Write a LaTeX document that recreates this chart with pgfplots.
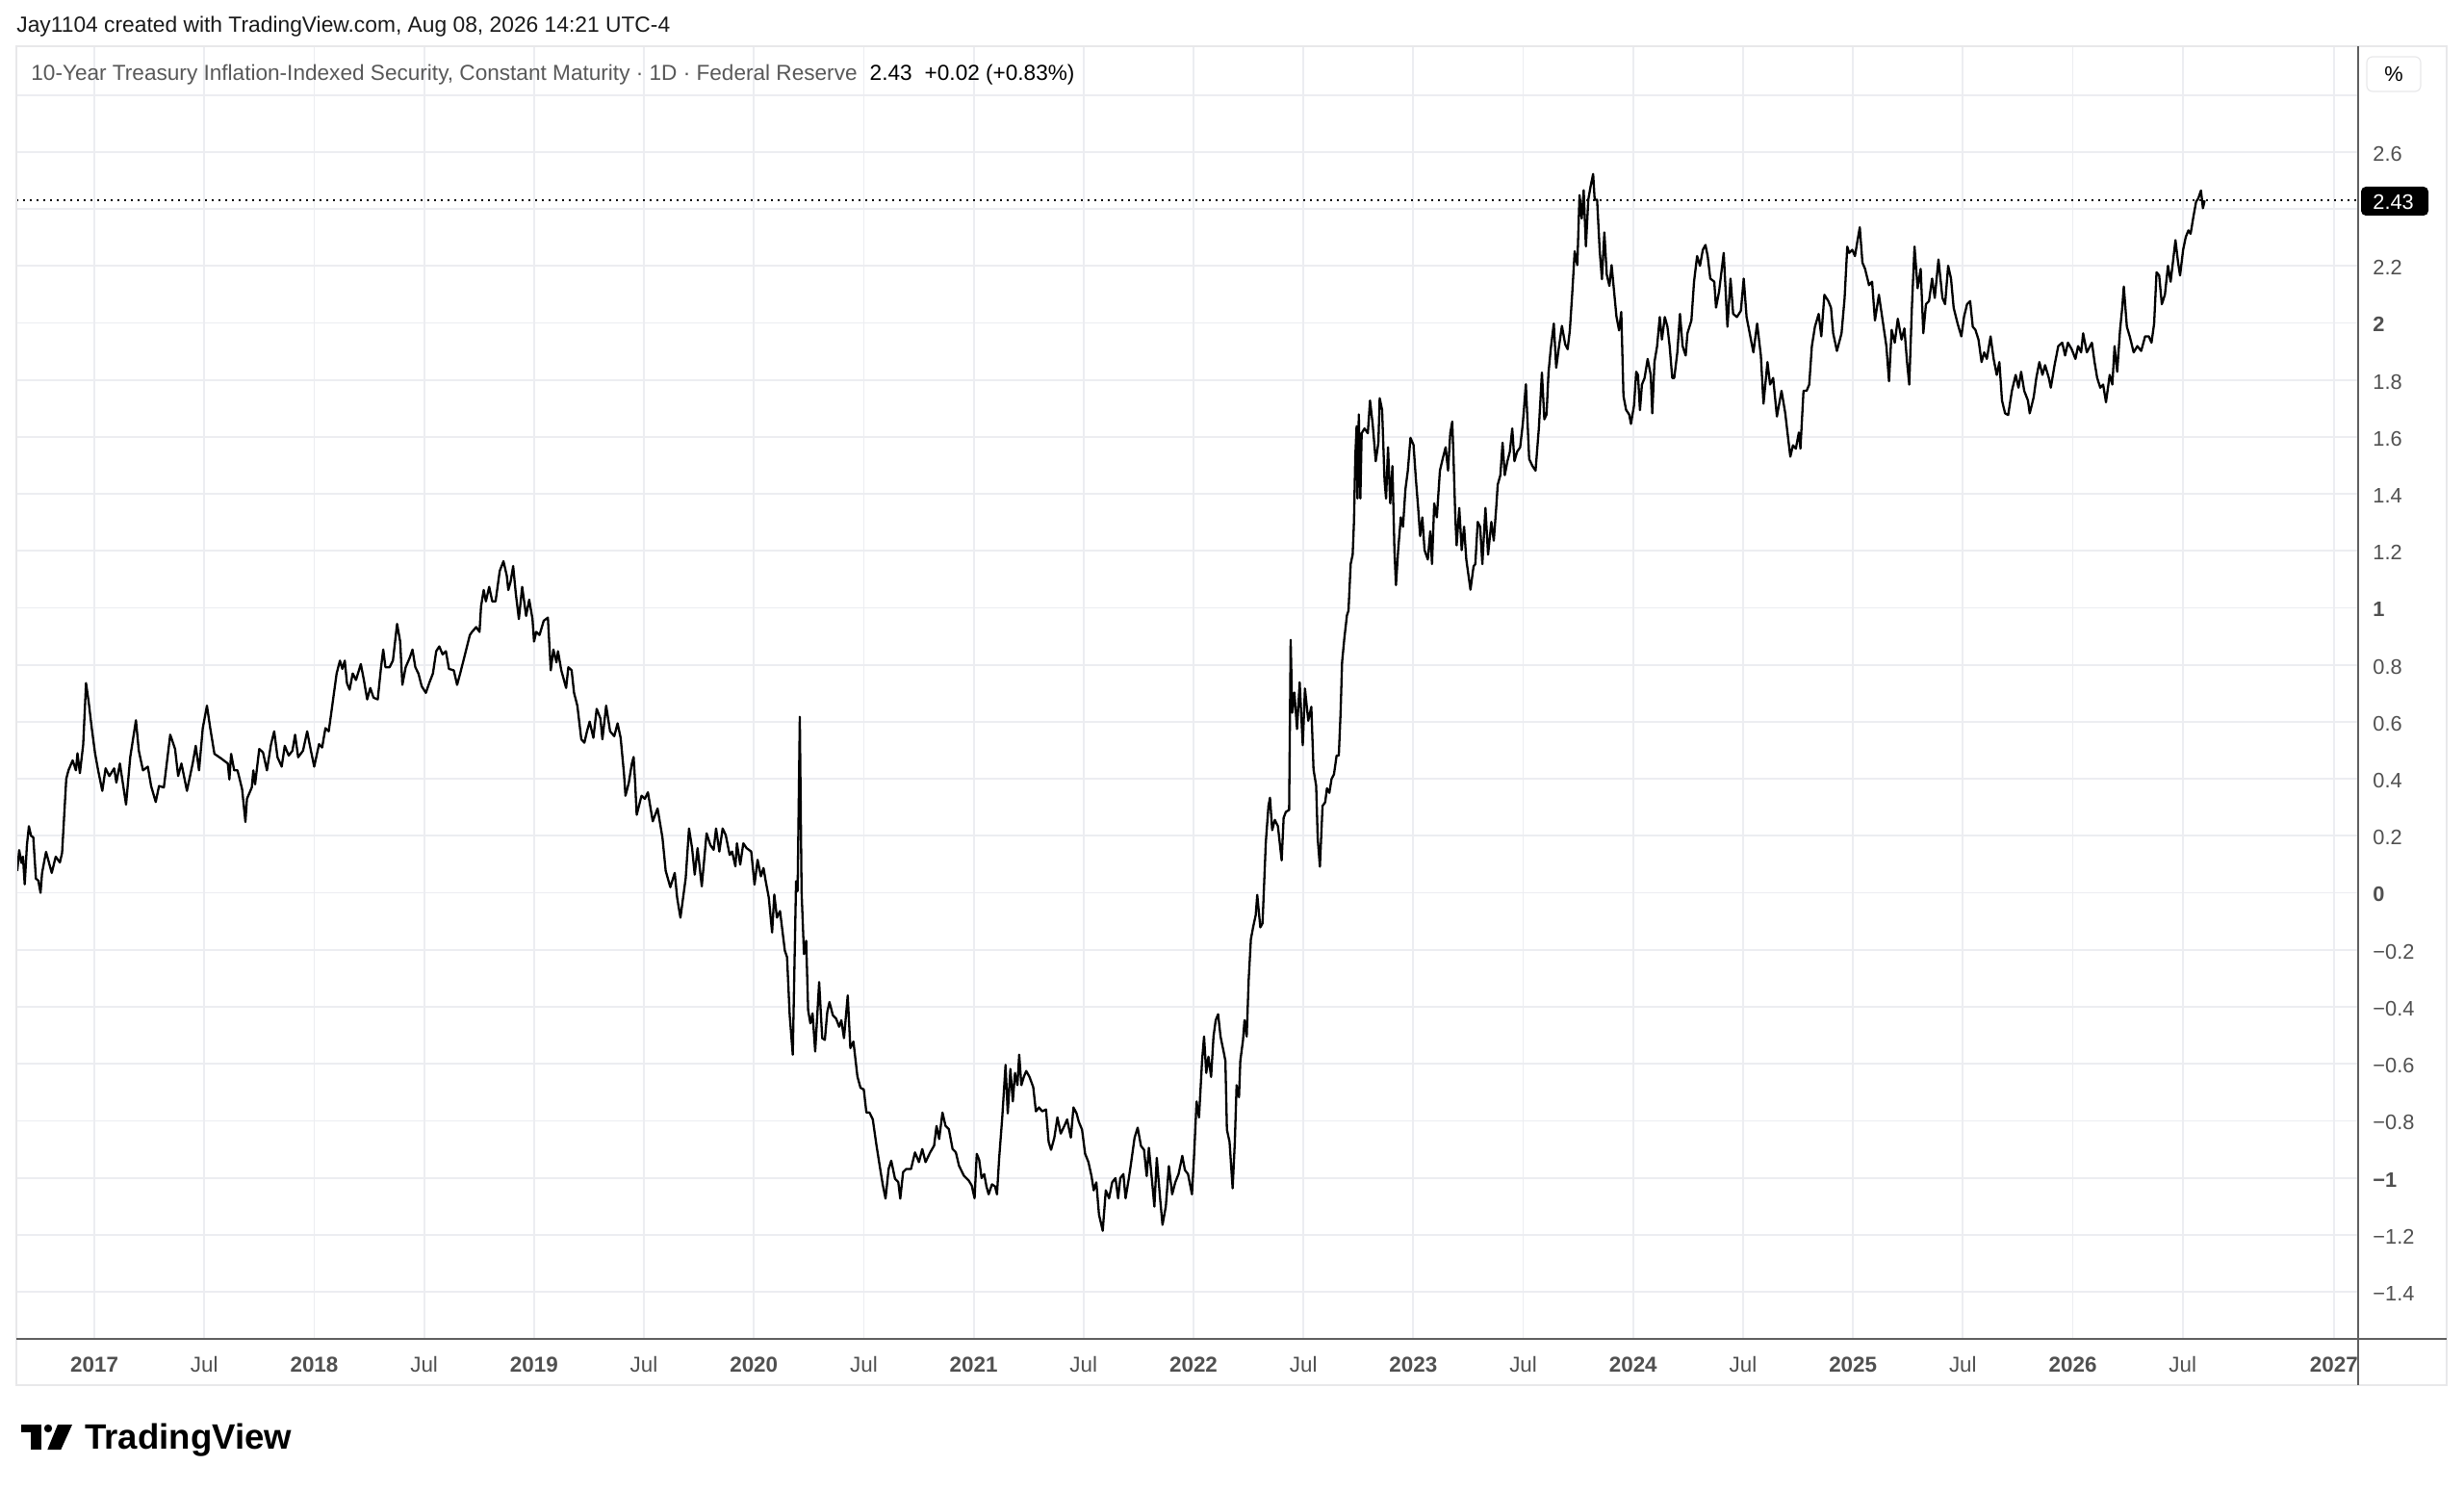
\documentclass[border=0pt]{standalone}
\usepackage{fontspec}
\setmainfont{Liberation Sans}
\usepackage{pgfplots}
\pgfplotsset{compat=1.18}
\definecolor{gridc}{RGB}{236,237,241}
\definecolor{axisc}{RGB}{95,95,95}
\definecolor{labc}{RGB}{80,80,80}
\definecolor{legc}{RGB}{88,88,88}
\definecolor{framec}{RGB}{232,232,234}
\begin{document}
\begin{tikzpicture}[x=1pt,y=1pt]
\path[use as bounding box] (0,0) rectangle (1280,774);
\begin{axis}[
  at={(8.5pt,78.5pt)}, anchor=south west,
  width=1216.5pt, height=671.5pt, scale only axis,
  xmin=2016.645, xmax=2027.298, ymin=-1.5655, ymax=2.9716,
  axis line style={draw=none},
  major tick length=0pt, tick style={draw=none},
  grid=major, major grid style={gridc, line width=0.9pt},
  xtick={2017,2017.5,2018,2018.5,2019,2019.5,2020,2020.5,2021,2021.5,2022,2022.5,2023,2023.5,2024,2024.5,2025,2025.5,2026,2026.5,2027.188},
  xticklabels={\textbf{2017},Jul,\textbf{2018},Jul,\textbf{2019},Jul,\textbf{2020},Jul,\textbf{2021},Jul,\textbf{2022},Jul,\textbf{2023},Jul,\textbf{2024},Jul,\textbf{2025},Jul,\textbf{2026},Jul,\textbf{2027}},
  ytick={-1.4,-1.2,-1,-0.8,-0.6,-0.4,-0.2,0,0.2,0.4,0.6,0.8,1,1.2,1.4,1.6,1.8,2,2.2,2.4,2.6,2.8},
  yticklabels={−1.4,−1.2,\textbf{−1},−0.8,−0.6,−0.4,−0.2,\textbf{0},0.2,0.4,0.6,0.8,\textbf{1},1.2,1.4,1.6,1.8,\textbf{2},2.2,{},2.6,{}},
  yticklabel pos=right,
  xticklabel style={anchor=base, yshift=-17pt, inner sep=0pt, font=\fontsize{11.2}{13}\selectfont, text=labc},
  yticklabel style={anchor=base west, xshift=7.5pt, yshift=-4.7pt, inner sep=0pt, font=\fontsize{10.9}{12}\selectfont, text=labc},
]
\addplot[black, line width=0.8pt, dash pattern=on 0.9pt off 2.6pt] coordinates {(2016.645,2.43) (2027.298,2.43)};
\addplot[black, line width=1.15pt, line join=round, mark=none] coordinates {
(2016.649,0.077)(2016.658,0.15)(2016.668,0.105)(2016.675,0.127)(2016.683,0.03)(2016.693,0.167)(2016.702,0.234)(2016.712,0.2)(2016.722,0.195)(2016.734,0.05)(2016.745,0.043)(2016.755,0.0)(2016.762,0.07)(2016.780,0.144)(2016.792,0.11)(2016.806,0.07)(2016.824,0.127)(2016.843,0.107)(2016.853,0.14)(2016.872,0.40)(2016.882,0.43)(2016.901,0.465)(2016.916,0.43)(2016.923,0.49)(2016.934,0.42)(2016.949,0.52)(2016.962,0.736)(2016.974,0.67)(2016.988,0.578)(2017.003,0.49)(2017.017,0.43)(2017.036,0.358)(2017.051,0.437)(2017.068,0.41)(2017.090,0.437)(2017.100,0.387)(2017.116,0.454)(2017.144,0.31)(2017.163,0.476)(2017.189,0.606)(2017.202,0.499)(2017.221,0.43)(2017.243,0.443)(2017.258,0.375)(2017.279,0.319)(2017.294,0.375)(2017.316,0.37)(2017.345,0.555)(2017.367,0.505)(2017.381,0.41)(2017.396,0.454)(2017.421,0.358)(2017.447,0.454)(2017.461,0.516)(2017.476,0.43)(2017.493,0.578)(2017.512,0.657)(2017.527,0.578)(2017.546,0.488)(2017.578,0.471)(2017.607,0.454)(2017.614,0.398)(2017.622,0.488)(2017.636,0.43)(2017.651,0.43)(2017.672,0.364)(2017.687,0.249)(2017.694,0.33)(2017.716,0.37)(2017.723,0.43)(2017.731,0.381)(2017.750,0.505)(2017.767,0.493)(2017.785,0.43)(2017.803,0.52)(2017.818,0.567)(2017.833,0.476)(2017.852,0.443)(2017.866,0.516)(2017.884,0.482)(2017.901,0.499)(2017.913,0.555)(2017.927,0.476)(2017.949,0.499)(2017.968,0.567)(2017.985,0.499)(2018.000,0.443)
(2018.022,0.522)(2018.036,0.51)(2018.051,0.578)(2018.066,0.567)(2018.076,0.623)(2018.088,0.691)(2018.102,0.77)(2018.117,0.815)(2018.128,0.786)(2018.139,0.815)(2018.149,0.736)(2018.161,0.713)(2018.175,0.77)(2018.190,0.747)(2018.212,0.803)(2018.226,0.747)(2018.241,0.679)(2018.255,0.719)(2018.270,0.685)(2018.289,0.679)(2018.304,0.792)(2018.314,0.854)(2018.324,0.792)(2018.343,0.792)(2018.358,0.815)(2018.377,0.944)(2018.391,0.882)(2018.401,0.730)(2018.416,0.792)(2018.435,0.826)(2018.447,0.854)(2018.460,0.792)(2018.474,0.77)(2018.489,0.725)(2018.508,0.702)(2018.523,0.736)(2018.540,0.77)(2018.555,0.848)(2018.569,0.865)(2018.584,0.837)(2018.599,0.848)(2018.613,0.786)(2018.635,0.781)(2018.650,0.730)(2018.664,0.77)(2018.686,0.837)(2018.708,0.905)(2018.718,0.916)(2018.737,0.933)(2018.752,0.916)(2018.759,1.006)(2018.771,1.063)(2018.781,1.023)(2018.796,1.074)(2018.810,1.023)(2018.825,1.023)(2018.844,1.130)(2018.861,1.164)(2018.876,1.113)(2018.883,1.063)(2018.893,1.091)(2018.905,1.147)(2018.917,1.051)(2018.931,0.961)(2018.946,1.074)(2018.964,0.972)(2018.978,1.029)(2018.993,0.961)(2019.000,0.882)(2019.010,0.916)(2019.025,0.905)(2019.044,0.955)(2019.063,0.966)(2019.076,0.781)(2019.088,0.854)(2019.102,0.809)(2019.109,0.848)(2019.124,0.781)(2019.146,0.719)(2019.156,0.792)(2019.171,0.781)(2019.182,0.702)(2019.197,0.657)(2019.215,0.539)(2019.229,0.527)(2019.241,0.567)(2019.253,0.601)(2019.270,0.544)(2019.285,0.646)(2019.302,0.612)(2019.311,0.539)(2019.328,0.657)(2019.346,0.567)(2019.365,0.550)(2019.380,0.595)(2019.394,0.544)(2019.409,0.420)(2019.416,0.341)(2019.431,0.386)(2019.445,0.454)(2019.453,0.477)(2019.460,0.386)(2019.467,0.274)(2019.489,0.341)(2019.504,0.330)(2019.518,0.353)(2019.540,0.251)(2019.562,0.296)(2019.584,0.195)(2019.599,0.077)(2019.620,0.020)
(2019.640,0.07)(2019.651,-0.017)(2019.666,-0.087)(2019.676,-0.029)(2019.690,0.052)(2019.705,0.226)(2019.719,0.157)(2019.731,0.064)(2019.744,0.157)(2019.763,0.023)(2019.785,0.209)(2019.802,0.168)(2019.817,0.151)(2019.828,0.226)(2019.843,0.145)(2019.858,0.226)(2019.872,0.203)(2019.890,0.133)(2019.901,0.145)(2019.916,0.093)(2019.923,0.174)(2019.938,0.099)(2019.952,0.174)(2019.967,0.157)(2019.988,0.145)(2020.003,0.029)(2020.017,0.116)(2020.032,0.058)(2020.044,0.087)(2020.054,0.041)(2020.068,-0.017)(2020.083,-0.139)(2020.093,-0.006)(2020.105,-0.087)(2020.119,-0.064)(2020.141,-0.203)(2020.151,-0.226)(2020.163,-0.429)(2020.177,-0.568)(2020.192,0.041)(2020.199,0.006)(2020.209,0.618)(2020.217,0.006)(2020.228,-0.215)(2020.238,-0.168)(2020.247,-0.412)(2020.257,-0.458)(2020.267,-0.423)(2020.279,-0.557)(2020.297,-0.313)(2020.311,-0.510)(2020.323,-0.516)(2020.334,-0.418)(2020.344,-0.383)(2020.359,-0.429)(2020.374,-0.441)(2020.388,-0.470)(2020.398,-0.447)(2020.410,-0.510)(2020.427,-0.360)(2020.439,-0.545)(2020.453,-0.522)(2020.471,-0.644)(2020.485,-0.684)(2020.500,-0.690)(2020.512,-0.771)(2020.526,-0.771)(2020.541,-0.795)(2020.558,-0.887)(2020.577,-0.980)(2020.587,-1.027)(2020.599,-1.073)(2020.613,-0.969)(2020.625,-0.940)(2020.642,-1.003)(2020.657,-1.015)(2020.666,-1.073)(2020.679,-0.980)(2020.693,-0.969)(2020.715,-0.969)(2020.733,-0.911)(2020.751,-0.945)(2020.766,-0.899)(2020.781,-0.945)(2020.802,-0.911)(2020.820,-0.887)(2020.831,-0.818)(2020.843,-0.864)(2020.858,-0.771)(2020.872,-0.818)(2020.887,-0.829)(2020.904,-0.899)(2020.919,-0.911)(2020.933,-0.957)(2020.955,-0.992)(2020.977,-1.009)(2020.991,-1.027)
(2021.004,-1.072)(2021.014,-0.916)(2021.025,-0.937)(2021.036,-1.001)(2021.048,-0.987)(2021.058,-1.030)(2021.068,-1.058)(2021.083,-1.023)(2021.097,-1.030)(2021.106,-1.058)(2021.116,-0.930)(2021.130,-0.788)(2021.145,-0.604)(2021.155,-0.774)(2021.167,-0.618)(2021.178,-0.732)(2021.188,-0.632)(2021.199,-0.675)(2021.207,-0.568)(2021.217,-0.675)(2021.228,-0.646)(2021.239,-0.625)(2021.254,-0.646)(2021.271,-0.682)(2021.283,-0.767)(2021.297,-0.753)(2021.312,-0.767)(2021.329,-0.760)(2021.341,-0.874)(2021.352,-0.902)(2021.367,-0.859)(2021.381,-0.788)(2021.396,-0.845)(2021.413,-0.817)(2021.425,-0.795)(2021.442,-0.859)(2021.454,-0.753)(2021.468,-0.774)(2021.478,-0.803)(2021.493,-0.831)(2021.507,-0.916)(2021.522,-0.945)(2021.536,-0.994)(2021.546,-1.044)(2021.558,-1.016)(2021.570,-1.129)(2021.587,-1.186)(2021.601,-1.044)(2021.616,-1.072)(2021.630,-1.016)(2021.645,-1.001)(2021.657,-1.072)(2021.667,-1.001)(2021.681,-0.987)(2021.691,-1.072)(2021.706,-1.001)(2021.714,-0.959)(2021.732,-0.859)(2021.746,-0.824)(2021.761,-0.888)(2021.775,-0.902)(2021.787,-0.994)(2021.797,-0.895)(2021.812,-1.016)(2021.822,-1.101)(2021.833,-0.930)(2021.848,-1.072)(2021.859,-1.165)(2021.874,-1.101)(2021.888,-0.959)(2021.903,-1.058)(2021.917,-1.016)(2021.932,-0.987)(2021.949,-0.923)(2021.961,-0.973)(2021.975,-0.987)(2021.993,-1.058)(2022.003,-0.916)(2022.014,-0.732)(2022.025,-0.788)(2022.033,-0.675)(2022.039,-0.589)(2022.048,-0.504)(2022.058,-0.632)(2022.068,-0.575)(2022.080,-0.646)(2022.091,-0.504)(2022.101,-0.447)(2022.112,-0.426)(2022.123,-0.504)(2022.138,-0.561)(2022.145,-0.589)(2022.152,-0.831)(2022.164,-0.874)(2022.178,-1.037)(2022.188,-0.874)(2022.196,-0.675)(2022.207,-0.717)(2022.213,-0.589)(2022.225,-0.518)(2022.232,-0.447)(2022.242,-0.504)(2022.251,-0.305)(2022.261,-0.163)(2022.271,-0.121)(2022.283,-0.078)(2022.290,-0.007)(2022.304,-0.121)(2022.314,-0.107)(2022.323,0.064)(2022.329,0.178)(2022.341,0.305)(2022.348,0.334)(2022.358,0.220)(2022.370,0.256)(2022.384,0.234)(2022.401,0.114)(2022.410,0.263)(2022.420,0.284)(2022.435,0.291)(2022.442,0.888)(2022.449,0.632)(2022.459,0.703)(2022.471,0.575)(2022.483,0.739)(2022.497,0.518)(2022.507,0.717)(2022.522,0.604)(2022.536,0.653)(2022.546,0.433)(2022.558,0.376)(2022.565,0.192)(2022.575,0.092)(2022.587,0.305)
(2022.599,0.318)(2022.607,0.367)(2022.618,0.351)(2022.628,0.4)(2022.639,0.416)(2022.651,0.482)(2022.661,0.482)(2022.669,0.630)(2022.676,0.810)(2022.686,0.892)(2022.698,0.974)(2022.705,0.990)(2022.715,1.154)(2022.724,1.187)(2022.730,1.302)(2022.736,1.531)(2022.742,1.638)(2022.746,1.384)(2022.752,1.679)(2022.759,1.384)(2022.765,1.613)(2022.778,1.630)(2022.793,1.613)(2022.803,1.728)(2022.815,1.646)(2022.829,1.515)(2022.841,1.580)(2022.847,1.736)(2022.858,1.695)(2022.869,1.449)(2022.876,1.384)(2022.885,1.564)(2022.895,1.367)(2022.905,1.498)(2022.914,1.203)(2022.921,1.080)(2022.931,1.203)(2022.943,1.318)(2022.953,1.285)(2022.964,1.416)(2022.975,1.482)(2022.987,1.597)(2023.001,1.572)(2023.012,1.449)(2023.022,1.351)(2023.031,1.252)(2023.041,1.318)(2023.051,1.203)(2023.066,1.170)(2023.077,1.269)(2023.085,1.154)(2023.095,1.367)(2023.107,1.318)(2023.121,1.482)(2023.136,1.531)(2023.147,1.564)(2023.158,1.482)(2023.168,1.613)(2023.177,1.654)(2023.182,1.548)(2023.191,1.318)(2023.197,1.220)(2023.209,1.351)(2023.220,1.203)(2023.231,1.285)(2023.241,1.170)(2023.260,1.064)(2023.274,1.146)(2023.282,1.154)(2023.293,1.302)(2023.304,1.285)(2023.314,1.154)(2023.328,1.351)(2023.340,1.187)(2023.355,1.302)(2023.366,1.236)(2023.377,1.351)(2023.384,1.433)(2023.396,1.466)(2023.406,1.580)(2023.416,1.466)(2023.428,1.515)(2023.439,1.548)(2023.450,1.630)(2023.460,1.515)(2023.472,1.548)(2023.486,1.564)(2023.498,1.646)(2023.512,1.785)(2023.527,1.523)(2023.542,1.498)(2023.556,1.482)(2023.571,1.630)(2023.585,1.826)(2023.596,1.662)(2023.606,1.679)(2023.615,1.826)(2023.625,1.908)(2023.639,1.998)(2023.650,1.843)(2023.661,1.908)(2023.676,1.990)(2023.691,1.925)(2023.702,1.908)(2023.712,1.974)(2023.723,2.105)(2023.734,2.252)(2023.746,2.203)(2023.756,2.449)(2023.766,2.367)(2023.775,2.466)(2023.785,2.269)(2023.796,2.433)(2023.807,2.482)(2023.818,2.523)(2023.825,2.433)(2023.836,2.433)(2023.848,2.252)(2023.858,2.154)(2023.869,2.318)(2023.880,2.170)(2023.892,2.130)(2023.902,2.203)(2023.912,2.121)(2023.924,2.023)(2023.936,1.974)(2023.946,2.039)(2023.956,1.744)(2023.968,1.695)(2023.982,1.679)(2023.990,1.646)(2024.004,1.711)
(2024.014,1.829)(2024.022,1.818)(2024.031,1.694)(2024.040,1.784)(2024.052,1.807)(2024.066,1.874)(2024.080,1.818)(2024.087,1.683)(2024.097,1.863)(2024.109,1.919)(2024.121,2.021)(2024.131,1.942)(2024.144,2.021)(2024.156,1.987)(2024.166,1.919)(2024.178,1.807)(2024.187,1.807)(2024.201,1.897)(2024.213,2.032)(2024.225,1.919)(2024.239,1.886)(2024.247,1.964)(2024.265,2.009)(2024.277,2.145)(2024.291,2.235)(2024.304,2.201)(2024.317,2.257)(2024.329,2.274)(2024.339,2.235)(2024.351,2.156)(2024.369,2.145)(2024.377,2.054)(2024.391,2.111)(2024.412,2.246)(2024.429,1.987)(2024.443,2.156)(2024.455,2.032)(2024.472,2.021)(2024.490,2.043)(2024.503,2.156)(2024.516,2.021)(2024.533,1.953)(2024.547,1.897)(2024.564,1.998)(2024.581,1.886)(2024.593,1.717)(2024.611,1.863)(2024.623,1.784)(2024.637,1.807)(2024.654,1.672)(2024.675,1.762)(2024.692,1.683)(2024.702,1.616)(2024.715,1.531)(2024.727,1.571)(2024.740,1.559)(2024.754,1.616)(2024.761,1.559)(2024.775,1.762)(2024.789,1.762)(2024.801,1.784)(2024.813,1.919)(2024.827,1.987)(2024.844,2.032)(2024.856,1.953)(2024.870,2.099)(2024.888,2.077)(2024.900,2.054)(2024.910,1.964)(2024.927,1.902)(2024.948,1.964)(2024.962,2.088)(2024.974,2.268)(2024.983,2.246)(2024.997,2.257)(2025.009,2.235)(2025.021,2.291)(2025.031,2.336)(2025.043,2.212)(2025.055,2.190)(2025.073,2.133)(2025.087,2.145)(2025.100,2.009)(2025.118,2.099)(2025.135,2.009)(2025.152,1.919)(2025.164,1.796)(2025.176,1.976)(2025.190,1.931)(2025.204,2.015)(2025.221,1.942)(2025.234,1.981)(2025.246,1.863)(2025.256,1.784)(2025.268,2.054)(2025.280,2.268)(2025.294,2.122)(2025.308,2.190)(2025.320,1.964)(2025.332,2.066)(2025.346,2.077)(2025.360,2.156)(2025.372,2.088)(2025.389,2.223)(2025.407,2.088)(2025.419,2.066)(2025.433,2.201)(2025.446,2.156)(2025.458,2.054)(2025.476,1.998)(2025.493,1.953)(2025.505,2.021)(2025.519,2.066)(2025.533,2.077)(2025.545,1.987)(2025.557,1.976)(2025.571,1.942)(2025.585,1.863)(2025.597,1.897)(2025.609,1.874)(2025.626,1.953)(2025.640,1.874)(2025.654,1.818)(2025.666,1.863)(2025.678,1.728)(2025.692,1.683)(2025.706,1.677)(2025.723,1.762)(2025.740,1.818)(2025.753,1.773)(2025.765,1.829)(2025.779,1.762)(2025.796,1.728)(2025.804,1.683)(2025.822,1.739)(2025.834,1.807)(2025.848,1.863)(2025.862,1.818)(2025.874,1.852)(2025.891,1.807)(2025.900,1.773)(2025.917,1.852)(2025.934,1.919)(2025.952,1.931)(2025.965,1.886)(2025.978,1.931)(2025.995,1.908)(2026.012,1.874)(2026.024,1.919)(2026.038,1.897)(2026.047,1.964)(2026.064,1.897)(2026.087,1.931)(2026.099,1.863)(2026.111,1.807)(2026.125,1.773)(2026.138,1.784)(2026.151,1.722)(2026.168,1.818)(2026.180,1.784)(2026.190,1.919)(2026.202,1.829)(2026.215,1.976)(2026.225,2.054)(2026.232,2.128)(2026.246,1.987)(2026.259,1.953)(2026.277,1.897)(2026.294,1.919)(2026.311,1.902)(2026.329,1.953)(2026.346,1.953)(2026.358,1.931)(2026.370,1.998)(2026.381,2.178)(2026.393,2.167)(2026.405,2.066)(2026.419,2.099)(2026.433,2.201)(2026.445,2.145)(2026.457,2.223)(2026.467,2.291)(2026.479,2.212)(2026.488,2.167)(2026.502,2.257)(2026.514,2.302)(2026.526,2.325)(2026.536,2.313)(2026.548,2.370)(2026.561,2.426)(2026.571,2.437)(2026.583,2.465)(2026.592,2.403)(2026.600,2.43)
};
\end{axis}
% cover the clipped part of the last time label
\fill[white] (1225.6,55) rectangle (1270.5,78);
% frame and scale lines
\draw[framec, line width=0.8pt] (8.5,54.5) rectangle (1271,750);
\draw[axisc, line width=1pt] (1225,54.5) -- (1225,750);
\draw[axisc, line width=1pt] (8.5,78.5) -- (1271,78.5);
% price badge
\fill[black, rounded corners=2.5pt] (1226.5,662) rectangle (1261.5,677);
\node[anchor=base west, inner sep=0pt, text=white, font=\fontsize{10.9}{12}\selectfont] at (1232.5,665.2) {2.43};
% percent box
\draw[framec, rounded corners=3pt, line width=0.6pt] (1229.5,726.5) rectangle (1257.5,744.5);
\node[inner sep=0pt, text=black, font=\fontsize{10.9}{12}\selectfont] at (1243.5,735.5) {\%};
% header texts
\node[anchor=base west, inner sep=0pt, text=black!90, font=\fontsize{11.4}{13}\selectfont] at (8.5,757) {Jay1104 created with TradingView.com, Aug 08, 2026 14:21 UTC-4};
\node[anchor=base west, inner sep=0pt, font=\fontsize{11.3}{13}\selectfont] at (16,732.25) {\textcolor{legc}{10-Year Treasury Inflation-Indexed Security, Constant Maturity · 1D · Federal Reserve}\hspace{6.5pt}2.43\hspace{6.5pt}+0.02 (+0.83\%)};
% logo
\fill[black] (10.85,29.85) rectangle (21.65,34);
\fill[black] (15.85,21) rectangle (21.65,34);
\fill[black] (25,32) circle (2.1);
\fill[black] (30,34) -- (37.5,34) -- (31.65,21) -- (24.65,21) -- cycle;
\node[anchor=base west, inner sep=0pt, font=\bfseries\fontsize{18.3}{20}\selectfont] at (44,21) {TradingView};
\end{tikzpicture}
\end{document}
